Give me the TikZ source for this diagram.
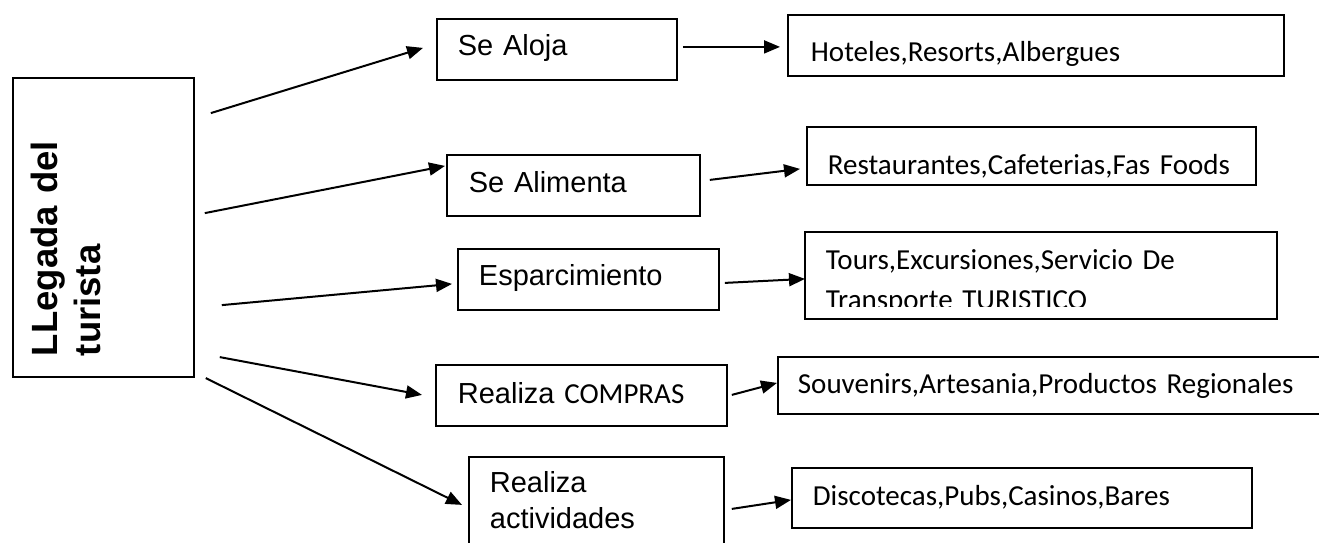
\documentclass[tikz,border=0pt]{standalone}
\usepackage{fontspec}
\newfontfamily\arialf{Liberation Sans}
\newfontfamily\calf{Carlito}
\usetikzlibrary{arrows.meta,calc}
\tikzset{
  box/.style={draw, line width=1.8pt, inner ysep=0pt, align=left, anchor=north west},
  mid/.style={box, font=\arialf\fontsize{29}{36}\selectfont},
  rgt/.style={box, font=\calf\fontsize{29}{40}\selectfont},
  conn/.style={line width=2pt, -{Triangle[length=16pt,width=13pt]}},
}
\begin{document}
\begin{tikzpicture}[x=1pt,y=-1pt]
\path[use as bounding box, fill=white] (0,0) rectangle (1319,542);

% left box
\node[draw, line width=1.8pt, rotate=90, anchor=north west, align=left,
      text width=257pt, inner xsep=21pt, inner ysep=0pt,
      text height=45pt, text depth=136pt,
      font=\arialf\bfseries\fontsize{36.5}{43}\selectfont] (L) at (12,378) {LLegada del\\turista};

% middle boxes
\node[mid, text width=198pt, inner xsep=21pt, text height=37pt, text depth=24pt] (m1) at (436,18) {Se Aloja};
\node[mid, text width=209pt, inner xsep=22pt, text height=38pt, text depth=23pt] (m2) at (446,154) {Se Alimenta};
\node[mid, text width=219pt, inner xsep=21pt, text height=37pt, text depth=24pt] (m3) at (457,248) {Esparcimiento};
\node[mid, text width=247pt, inner xsep=22pt, text height=39pt, text depth=22pt] (m4) at (435,364) {Realiza {\calf COMPRAS}};
\node[mid, text width=213pt, inner xsep=21pt, text height=36pt, text depth=68pt] (m5) at (468,456) {Realiza\\actividades};

% right boxes
\node[rgt, text width=450pt, inner xsep=23pt, text height=47pt, text depth=14pt] (r1) at (787,14) {Hoteles,Resorts,Albergues};
\node[rgt, text width=407pt, inner xsep=21pt, text height=48pt, text depth=10pt] (r2) at (806,126) {Restaurantes,Cafeterias,Fas Foods};
\begin{scope}
  \clip (805,232) rectangle (1275,306.7);
  \node[rgt, draw=none, text width=430pt, inner xsep=20pt, text height=37pt, text depth=48pt] (r3) at (805,232) {Tours,Excursiones,Servicio De\\Transporte TURISTICO};
\end{scope}
\draw[line width=1.8pt] (r3.north west) rectangle (r3.south east);
\node[rgt, text width=513pt, inner xsep=20pt, text height=37pt, text depth=20pt] (r4) at (777,356) {Souvenirs,Artesania,Productos Regionales};
\node[rgt, text width=418pt, inner xsep=21pt, text height=38pt, text depth=22pt] (r5) at (791,467) {Discotecas,Pubs,Casinos,Bares};

% connectors from the left box
\draw[conn] ($(L.south)+(16,-114.5)$) -- ($(m1.west)+(-13,-1.5)$);
\draw[conn] ($(L.south)+(10,-14.5)$) -- ($(m2.west)+(-1,-19.5)$);
\draw[conn] ($(L.south)+(27,77.5)$) -- ($(m3.west)+(-5,4.5)$);
\draw[conn] ($(L.south)+(25,129.5)$) -- ($(m4.west)+(-13,-0.5)$);
\draw[conn] ($(L.south)+(11,150.5)$) -- ($(m5.west)+(-6,-4)$);

% connectors middle -> right
\draw[conn] ($(m1.east)+(5,-2.5)$) -- ($(r1.west)+(-7,1.5)$);
\draw[conn] ($(m2.east)+(9,-5.5)$) -- ($(r2.west)+(-6,13)$);
\draw[conn] ($(m3.east)+(5,3.5)$) -- ($(r3.west)+(0,3.5)$);
\draw[conn] ($(m4.east)+(4,-0.5)$) -- ($(r4.west)+(0,-2.5)$);
\draw[conn] ($(m5.east)+(7,0)$) -- ($(r5.west)+(0,2)$);
\end{tikzpicture}
\end{document}
